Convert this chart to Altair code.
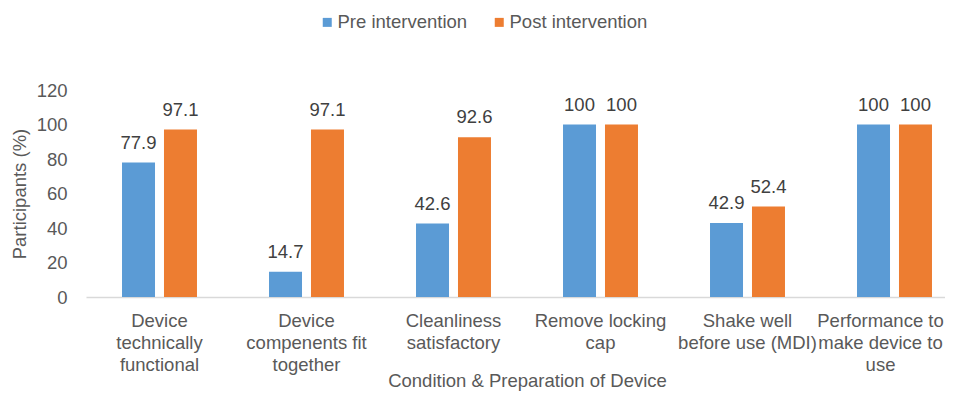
import altair as alt
import pandas as pd

categories = [
    "Device\ntechnically\nfunctional",
    "Device\ncompenents fit\ntogether",
    "Cleanliness\nsatisfactory",
    "Remove locking\ncap",
    "Shake well\nbefore use (MDI)",
    "Performance to\nmake device to\nuse",
]
series = ["Pre intervention", "Post intervention"]
pre_values = [77.9, 14.7, 42.6, 100, 42.9, 100]
post_values = [97.1, 97.1, 92.6, 100, 52.4, 100]
colors = ["#5B9BD5", "#ED7D31"]

rows = []
for c, a, b in zip(categories, pre_values, post_values):
    rows.append({"category": c, "series": series[0], "value": a})
    rows.append({"category": c, "series": series[1], "value": b})
df = pd.DataFrame(rows)

FONT = "Liberation Sans"
FS = 18.5
GRAY = "#595959"

last_label = categories[-1]

x = alt.X(
    "category:N",
    sort=categories,
    scale=alt.Scale(range=[0, 882], paddingInner=0.49, paddingOuter=0.245),
    axis=alt.Axis(
        title="Condition & Preparation of Device",
        labelExpr="split(datum.label, '\\n')",
        labelAngle=0,
        labelLineHeight=22,
        labelPadding=14,
        labelFontSize=FS,
        labelColor=GRAY,
        labelFont=FONT,
        labelOffset=alt.ExprRef(
            expr="indexof(datum.label, 'Performance') == 0 ? -14 : 0"
        ),
        titleFont=FONT,
        titleFontSize=FS,
        titleFontWeight="normal",
        titleColor=GRAY,
        titleBaseline="alphabetic",
        titleY=89,
        ticks=False,
        domainColor="#D9D9D9",
        domainWidth=1.3,
        grid=False,
    ),
)
xo = alt.XOffset("series:N", sort=series, scale=alt.Scale(paddingInner=0.214, paddingOuter=0))
y = alt.Y(
    "value:Q",
    scale=alt.Scale(domain=[0, 120]),
    axis=alt.Axis(
        title="Participants (%)",
        values=[0, 20, 40, 60, 80, 100, 120],
        labelFontSize=FS,
        labelColor=GRAY,
        labelFont=FONT,
        labelPadding=19,
        titleFont=FONT,
        titleFontSize=FS,
        titleFontWeight="normal",
        titleColor=GRAY,
        titlePadding=7,
        ticks=False,
        domain=False,
        grid=False,
    ),
)

bars = alt.Chart(df).mark_bar().encode(
    x=x,
    xOffset=xo,
    y=y,
    color=alt.Color(
        "series:N",
        sort=series,
        scale=alt.Scale(domain=series, range=colors),
        legend=alt.Legend(
            title=None,
            orient="none",
            direction="horizontal",
            legendX=232,
            legendY=-77,
            symbolType="square",
            symbolSize=81,
            symbolStrokeWidth=0,
            labelFontSize=FS,
            labelFont=FONT,
            labelColor=GRAY,
            labelOffset=1,
            columnPadding=22,
            padding=0,
        ),
    ),
)

labels = alt.Chart(df).mark_text(
    baseline="alphabetic", dy=-14, fontSize=FS, font=FONT, color="#404040"
).encode(x=x, xOffset=xo, y=y, text=alt.Text("value:Q"))

chart = alt.layer(bars, labels).properties(
    width=859,
    height=207,
    autosize=alt.AutoSizeParams(type="none"),
    padding={"left": 78, "top": 82, "right": 0, "bottom": 95},
).configure_view(stroke=None)

chart.save("out.html", embed_options={"renderer": "svg", "actions": False})
